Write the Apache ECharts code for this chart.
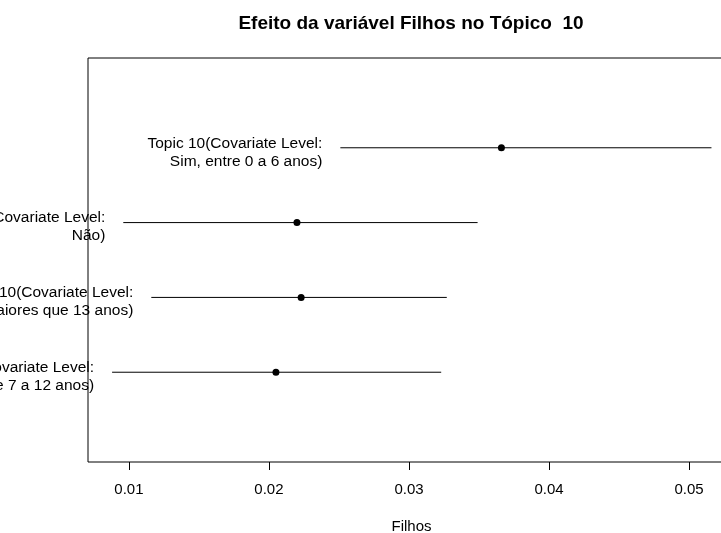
<!DOCTYPE html>
<html>
<head>
<meta charset="utf-8">
<script src="https://cdn.jsdelivr.net/npm/echarts@6/dist/echarts.min.js"></script>
<style>
  html, body { margin: 0; padding: 0; background: #fff; }
  #chart { width: 721px; height: 533px; }
</style>
</head>
<body>
<div id="chart"></div>
<script>
// covariate levels, top row first
const levels = ['Sim, entre 0 a 6 anos', 'Não', 'Sim, maiores que 13 anos', 'Sim, entre 7 a 12 anos']
const rowPos = [4, 3, 2, 1]
const estimates = [0.0366, 0.0220, 0.0223, 0.0205]
const lower = [0.0251, 0.0096, 0.0116, 0.0088]
const upper = [0.0516, 0.0349, 0.0327, 0.0323]
const xTicks = [0.01, 0.02, 0.03, 0.04, 0.05]

const font = "'Liberation Sans', Arial, sans-serif"

const rows = levels.map((lv, i) => [lower[i], upper[i], estimates[i], rowPos[i], 'Topic 10(Covariate Level:\n' + lv + ')'])

const chart = echarts.init(document.getElementById('chart'))
chart.setOption({
  animation: false,
  title: {
    text: 'Efeito da variável Filhos no Tópico  10',
    left: 406,
    top: 9,
    textAlign: 'center',
    textStyle: { fontFamily: font, fontSize: 19, fontWeight: 'bold', color: '#000' }
  },
  grid: {
    left: 88,
    right: -14,
    top: 58,
    bottom: 71,
    show: true,
    borderColor: '#000',
    borderWidth: 1,
    containLabel: false,
    outerBoundsMode: 'none'
  },
  xAxis: {
    type: 'value',
    min: 0.00708,
    max: 0.05328,
    name: 'Filhos',
    nameLocation: 'middle',
    nameGap: 57,
    nameTextStyle: { fontFamily: font, fontSize: 15, color: '#000' },
    axisLine: { show: false, onZero: false },
    splitLine: { show: false },
    axisTick: { show: true, inside: false, length: 8, lineStyle: { color: '#000' }, customValues: xTicks },
    axisLabel: {
      customValues: xTicks,
      margin: 20,
      fontFamily: font,
      fontSize: 15,
      color: '#000',
      formatter: v => v.toFixed(2)
    }
  },
  yAxis: {
    type: 'value',
    min: -0.2,
    max: 5.2,
    show: false
  },
  series: [{
    type: 'custom',
    clip: false,
    data: rows,
    renderItem: (params, api) => {
      const y = api.value(3)
      const p0 = api.coord([api.value(0), y])
      const p1 = api.coord([api.value(1), y])
      const pm = api.coord([api.value(2), y])
      return {
        type: 'group',
        children: [
          {
            type: 'line',
            shape: { x1: p0[0], y1: p0[1], x2: p1[0], y2: p1[1] },
            style: { stroke: '#000', lineWidth: 1 }
          },
          {
            type: 'circle',
            shape: { cx: pm[0], cy: pm[1], r: 3.5 },
            style: { fill: '#000' }
          },
          {
            type: 'text',
            style: {
              text: rows[params.dataIndex][4],
              x: p0[0] - 18,
              y: p0[1] + 4.5,
              textAlign: 'right',
              textVerticalAlign: 'middle',
              align: 'right',
              verticalAlign: 'middle',
              font: '15.5px ' + font,
              lineHeight: 18,
              fill: '#000'
            }
          }
        ]
      }
    }
  }]
})
</script>
</body>
</html>
